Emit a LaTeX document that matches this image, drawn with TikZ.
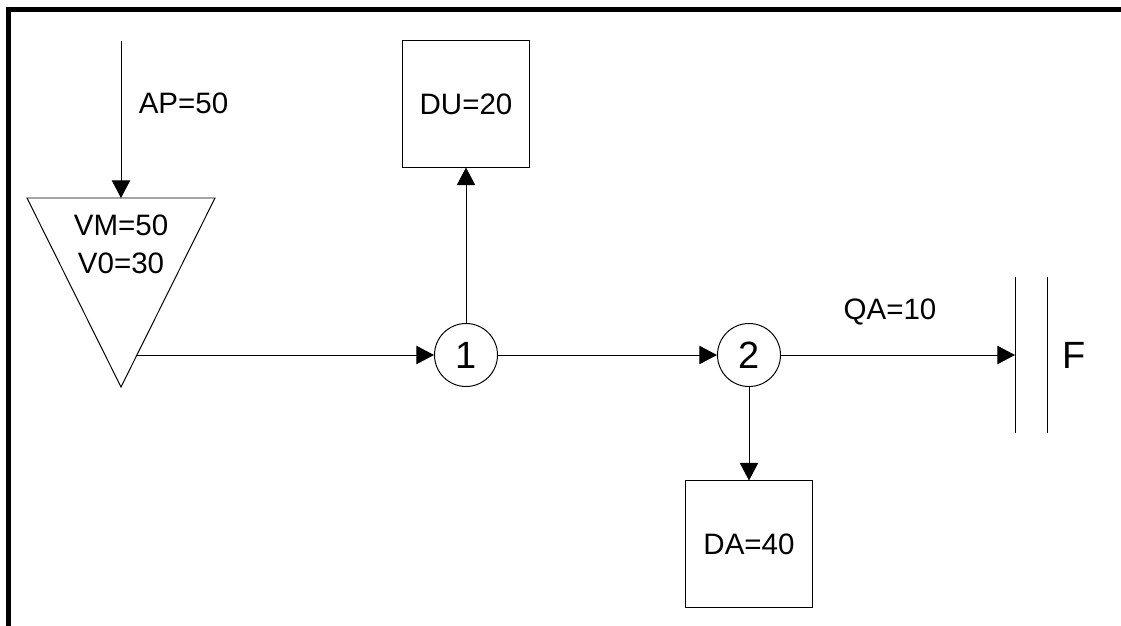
\documentclass[tikz,border=0pt]{standalone}
\usepackage{fontspec}
\setmainfont{Liberation Sans}
\usetikzlibrary{arrows.meta}

\tikzset{
  flow/.style={line width=0.7pt, -{Triangle[length=12.5pt,width=13pt]}},
  junction/.style={circle, draw, line width=0.7pt, minimum size=1.575cm, inner sep=0pt, font=\fontsize{27}{32}\selectfont},
  demand/.style={rectangle, draw, line width=0.7pt, minimum size=3.15cm, inner sep=0pt},
  lbl/.style={inner sep=0pt}
}

\begin{document}
\begin{tikzpicture}[x=0.025cm, y=-0.025cm, font=\fontsize{21}{25}\selectfont]
    \useasboundingbox (0,0) rectangle (1121,626);
    \draw [line width=3.6pt, line cap=butt] (8.5,626) -- (8.5,9.5) -- (1121,9.5);
    \draw [line width=0.7pt] (27,198) -- (215,198) -- (121,387) -- cycle;
    \coordinate (in) at (121,41);
    \coordinate (restop) at (121,198);
    \coordinate (resout) at (137,355);
    \node [lbl] (vm) at (121,225) {VM=50};
    \node [lbl] (vo) at (121,263) {V0=30};
    \node [lbl] (ap) at (183.5,103) {AP=50};
    \node [junction] (j1) at (466,355) {1};
    \node [junction] (j2) at (749,355) {2};
    \node [demand] (du) at (466,104) {DU=20};
    \node [demand] (da) at (749,544) {DA=40};
    \node [lbl] (qa) at (890,312) {QA=10};
    \coordinate (fa) at (1015,277);
    \coordinate (fb) at (1015,433);
    \coordinate (fc) at (1047,277);
    \coordinate (fd) at (1047,433);
    \coordinate (fin) at (1015,355);
    \node [lbl, font=\fontsize{27}{32}\selectfont] (f) at (1074,355) {F};
    \draw [line width=0.7pt] (fa) -- (fb) (fc) -- (fd);
    \draw [flow] (in) -- (restop);
    \draw [flow] (resout) -- (j1);
    \draw [flow] (j1) -- (du);
    \draw [flow] (j1) -- (j2);
    \draw [flow] (j2) -- (da);
    \draw [flow] (j2) -- (fin);
  \end{tikzpicture}
\end{document}
